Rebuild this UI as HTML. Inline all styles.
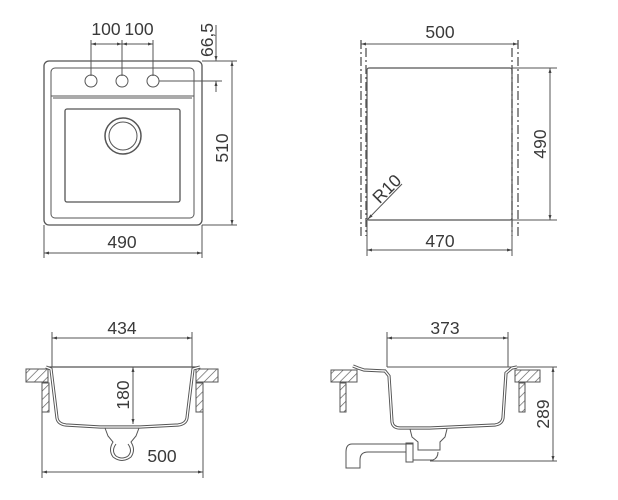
<!DOCTYPE html>
<html><head><meta charset="utf-8"><style>
html,body{margin:0;padding:0;background:#fff;}
svg{display:block}
text{font-family:"Liberation Sans",sans-serif;font-size:17.5px;fill:#3a3a3a}
</style></head><body>
<svg width="618" height="500" viewBox="0 0 618 500" xmlns="http://www.w3.org/2000/svg">
<defs>
<pattern id="h" width="6" height="6" patternUnits="userSpaceOnUse" patternTransform="rotate(45)">
<rect width="6" height="6" fill="#fff"/><line x1="0" y1="0" x2="0" y2="6" stroke="#555" stroke-width="1.3"/>
</pattern>
<marker id="a" viewBox="0 0 10 10" refX="10" refY="5" markerWidth="7" markerHeight="5" orient="auto-start-reverse"><path d="M0,2 L10,5 L0,8z" fill="#444"/></marker>
</defs>
<g fill="none" stroke="#555" stroke-width="1">
<rect x="44" y="61" width="158" height="164" rx="5" stroke-width="1.3"/>
<rect x="51" y="68" width="143" height="150" rx="4"/>
<line x1="51" y1="96" x2="194" y2="96"/><line x1="53" y1="98" x2="192" y2="98"/>
<rect x="65" y="109" width="115" height="93" rx="2" stroke-width="1.3"/>
<circle cx="123" cy="136" r="18" stroke-width="1.5"/><circle cx="123" cy="136" r="14"/>
<circle cx="91" cy="81" r="6"/><circle cx="122" cy="81" r="6"/><circle cx="153" cy="81" r="6"/>
<line x1="91" y1="40" x2="91" y2="76"/><line x1="122" y1="40" x2="122" y2="76"/><line x1="153" y1="40" x2="153" y2="76"/>
<line x1="91" y1="44" x2="122" y2="44" marker-start="url(#a)" marker-end="url(#a)"/>
<line x1="122" y1="44" x2="153" y2="44" marker-start="url(#a)" marker-end="url(#a)"/>
<line x1="159" y1="81" x2="222" y2="81"/>
<line x1="216" y1="25" x2="216" y2="61" marker-end="url(#a)"/>
<line x1="216" y1="92" x2="216" y2="81" marker-end="url(#a)"/>
<line x1="202" y1="61" x2="237" y2="61"/><line x1="202" y1="225" x2="237" y2="225"/>
<line x1="232" y1="61" x2="232" y2="225" marker-start="url(#a)" marker-end="url(#a)"/>
<line x1="44" y1="225" x2="44" y2="258"/><line x1="202" y1="225" x2="202" y2="258"/>
<line x1="44" y1="253" x2="202" y2="253" marker-start="url(#a)" marker-end="url(#a)"/>
<g stroke-dasharray="9,3,2,3" stroke-width="1.3">
<line x1="361" y1="40" x2="361" y2="236"/><line x1="366" y1="48" x2="366" y2="236"/>
<line x1="512" y1="48" x2="512" y2="236"/><line x1="518" y1="40" x2="518" y2="236"/>
</g>
<line x1="361" y1="44" x2="518" y2="44" marker-start="url(#a)" marker-end="url(#a)"/>
<rect x="367" y="68" width="145" height="152" rx="2" stroke-width="1.2"/>
<line x1="512" y1="68" x2="557" y2="68"/><line x1="512" y1="220" x2="557" y2="220"/>
<line x1="550" y1="68" x2="550" y2="220" marker-start="url(#a)" marker-end="url(#a)"/>
<line x1="367" y1="220" x2="367" y2="256"/><line x1="512" y1="220" x2="512" y2="256"/>
<line x1="367" y1="250" x2="512" y2="250" marker-start="url(#a)" marker-end="url(#a)"/>
<line x1="402" y1="184" x2="368" y2="219" marker-end="url(#a)"/>
<line x1="52" y1="332" x2="52" y2="367"/><line x1="192" y1="332" x2="192" y2="367"/>
<line x1="52" y1="338" x2="192" y2="338" marker-start="url(#a)" marker-end="url(#a)"/>
<rect x="26" y="369" width="22" height="13" fill="url(#h)"/>
<rect x="42" y="383" width="7" height="29" fill="url(#h)"/>
<rect x="196" y="369" width="22" height="13" fill="url(#h)"/>
<rect x="196" y="383" width="7" height="29" fill="url(#h)"/>
<line x1="46" y1="367" x2="200" y2="367" stroke-width="1.3"/>
<path d="M46,367 L51,369 L57,418 Q58,424 66,425 L100,427 L140,427 L178,425 Q186,424 187,418 L193,369 L200,367" stroke-width="3.2"/>
<path d="M46,367 L51,369 L57,418 Q58,424 66,425 L100,427 L140,427 L178,425 Q186,424 187,418 L193,369 L200,367" stroke="#fff" stroke-width="1.3"/>
<path d="M105,428 L108,436 L113,442 Q108,450 113,457 Q122,464 131,457 Q136,450 131,442 L136,436 L139,428"/>
<path d="M116,444 Q111,451 116,456 Q122,460 128,456 Q133,451 128,444"/>
<line x1="42" y1="412" x2="42" y2="478"/><line x1="203" y1="412" x2="203" y2="478"/>
<line x1="42" y1="472" x2="203" y2="472" marker-start="url(#a)" marker-end="url(#a)"/>
<line x1="133" y1="367" x2="133" y2="424" marker-start="url(#a)" marker-end="url(#a)"/>
<line x1="387" y1="332" x2="387" y2="367"/><line x1="508" y1="332" x2="508" y2="367"/>
<line x1="387" y1="338" x2="508" y2="338" marker-start="url(#a)" marker-end="url(#a)"/>
<rect x="331" y="370" width="26" height="12" fill="url(#h)"/>
<rect x="340" y="383" width="6" height="29" fill="url(#h)"/>
<rect x="515" y="370" width="25" height="12" fill="url(#h)"/>
<rect x="519" y="383" width="6" height="29" fill="url(#h)"/>
<line x1="387" y1="367" x2="557" y2="367"/>
<path d="M353,366 L358,368 L364,370 L385,371 L389,376 L392,422 Q393,428 400,428 L430,428 L495,425 Q502,424 503,418 L506,373 L512,368 L517,367" stroke-width="3.2"/>
<path d="M353,366 L358,368 L364,370 L385,371 L389,376 L392,422 Q393,428 400,428 L430,428 L495,425 Q502,424 503,418 L506,373 L512,368 L517,367" stroke="#fff" stroke-width="1.3"/>
<path d="M410,429 L412,437 L418,442 L418,450 L440,450 L440,442 L445,437 L447,429"/>
<path d="M413,444 L352,444 Q346,444 346,452 L346,468 L360,468 L360,460 Q360,452 368,452 L406,452"/>
<rect x="406" y="443" width="7" height="19"/>
<path d="M413,460 L433,460 Q438,458 438,452"/>
<line x1="430" y1="461" x2="557" y2="461"/>
<line x1="553" y1="367" x2="553" y2="461" marker-start="url(#a)" marker-end="url(#a)"/>
</g>
<text x="106" y="35" text-anchor="middle">100</text>
<text x="139" y="35" text-anchor="middle">100</text>
<text transform="translate(213,40) rotate(-90)" text-anchor="middle">66,5</text>
<text transform="translate(228,148) rotate(-90)" text-anchor="middle">510</text>
<text x="122" y="248" text-anchor="middle">490</text>
<text x="440" y="38" text-anchor="middle">500</text>
<text transform="translate(546,144) rotate(-90)" text-anchor="middle">490</text>
<text x="440" y="247" text-anchor="middle">470</text>
<text transform="translate(391,193) rotate(-45)" text-anchor="middle">R10</text>
<text x="122" y="334" text-anchor="middle">434</text>
<text transform="translate(129,395) rotate(-90)" text-anchor="middle">180</text>
<text x="162" y="462" text-anchor="middle">500</text>
<text x="445" y="334" text-anchor="middle">373</text>
<text transform="translate(549,414) rotate(-90)" text-anchor="middle">289</text>
</svg>
</body></html>
